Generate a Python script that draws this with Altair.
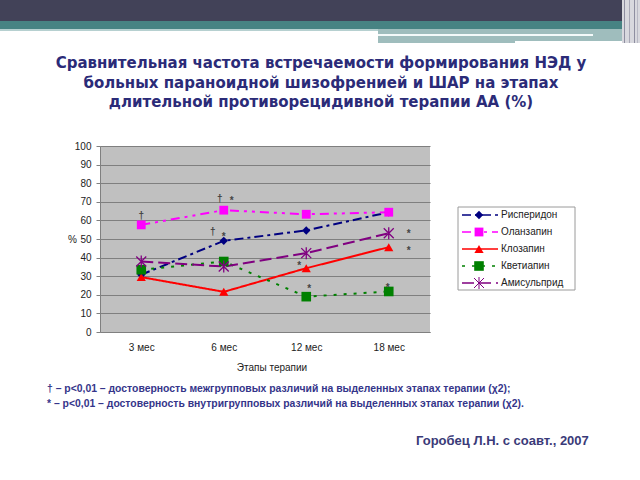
import altair as alt
import pandas as pd

# ---------------- data ----------------
STAGES = ["3 мес", "6 мес", "12 мес", "18 мес"]
SERIES = ["Рисперидон", "Оланзапин", "Клозапин", "Кветиапин", "Амисульприд"]
RISPERIDONE = [30.8, 49.0, 54.6, 64.4]
OLANZAPINE = [57.6, 65.5, 63.3, 64.4]
CLOZAPINE = [29.5, 21.6, 34.3, 45.6]
QUETIAPINE = [33.5, 37.9, 19.0, 21.8]
AMISULPRIDE = [37.9, 35.2, 42.4, 53.1]
Y_TICKS = list(range(0, 101, 10))

ANNOT_STAGE = ["3 мес", "6 мес", "6 мес", "6 мес", "6 мес", "12 мес", "12 мес", "18 мес", "18 мес", "18 мес"]
ANNOT_VALUE = [62.4, 71.5, 72.0, 53.8, 52.7, 37.0, 24.7, 54.3, 45.0, 25.3]
ANNOT_SYMBOL = ["†", "†", "*", "†", "*", "*", "*", "*", "*", "*"]
# horizontal nudges (style, px)
ANNOT_DX = [0, -4, 8, -11, 0, -7, 3, 20, 20, -1]

TITLE_LINES = [
    "Сравнительная частота встречаемости формирования НЭД у",
    "больных параноидной шизофренией и ШАР на этапах",
    "длительной противорецидивной терапии АА (%)",
]
FOOT_LINES = [
    "† –  p<0,01 – достоверность межгрупповых различий на выделенных этапах терапии (χ2);",
    "* –   p<0,01 –  достоверность  внутригрупповых  различий  на  выделенных  этапах  терапии (χ2).",
]
AUTHOR = "Горобец Л.Н. с соавт., 2007"

COLORS = ["#000080", "#ff00ff", "#ff0000", "#008000", "#800080"]
DASHES = [[9, 4, 3, 4], [9, 5, 3, 5, 3, 5], [1, 0], [3, 7], [12, 5]]
SHAPES = ["diamond", "square", "triangle-up", "square", "M-1,-1L1,1M-1,1L1,-1M0,-1.2L0,1.2"]
SIZES = [70, 100, 35, 80, 150]

rows = []
for name, vals in zip(SERIES, [RISPERIDONE, OLANZAPINE, CLOZAPINE, QUETIAPINE, AMISULPRIDE]):
    for st, v in zip(STAGES, vals):
        rows.append({"series": name, "stage": st, "value": v})
df = pd.DataFrame(rows)
ann = pd.DataFrame({"stage": ANNOT_STAGE, "value": ANNOT_VALUE, "sym": ANNOT_SYMBOL, "dx": ANNOT_DX})
leg = pd.DataFrame({"series": SERIES})

FONT = "Liberation Sans"
W, H = 330, 186
L, T = 100, 146  # plot origin in page

xscale = alt.Scale(type="point", domain=STAGES, padding=0.5)
yscale = alt.Scale(domain=[0, 100], nice=False)
color = alt.Color("series:N", scale=alt.Scale(domain=SERIES, range=COLORS), legend=None)
dash = alt.StrokeDash("series:N", scale=alt.Scale(domain=SERIES, range=DASHES), legend=None)
shape = alt.Shape("series:N", scale=alt.Scale(domain=SERIES, range=SHAPES), legend=None)
size = alt.Size("series:N", scale=alt.Scale(domain=SERIES, range=SIZES), legend=None)

AX_X = alt.Axis(title=None, labelAngle=0, ticks=False, domainColor="#808080",
                labelPadding=10, labelFont=FONT, labelFontSize=10, labelColor="#222")
AX_Y = alt.Axis(title=None, values=Y_TICKS, grid=True, gridColor="#7f7f7f",
                labelOverlap=False, domainColor="#808080", tickColor="#808080", tickSize=4,
                labelPadding=5, labelFont=FONT, labelFontSize=10, labelColor="#222")
XE = alt.X("stage:N", scale=xscale, sort=STAGES, axis=AX_X)
YE = alt.Y("value:Q", scale=yscale, axis=AX_Y)

base = alt.Chart(df)
lines = base.mark_line(strokeWidth=2).encode(
    x=XE, y=YE, color=color, strokeDash=dash, detail="series:N",
)
filled_pts = base.transform_filter(alt.datum.series != "Амисульприд").mark_point(filled=True, opacity=1).encode(
    x=XE, y=YE, color=color, shape=shape, size=size,
)
star_pts = base.transform_filter(alt.datum.series == "Амисульприд").mark_point(filled=False, strokeWidth=1.3, opacity=1).encode(
    x=XE, y=YE, color=color, shape=shape, size=size,
)

annot_layers = []
for d in sorted(set(ANNOT_DX)):
    for sym in ["†", "*"]:
        sub = ann[(ann.dx == d) & (ann.sym == sym)]
        if len(sub) == 0:
            continue
        annot_layers.append(
            alt.Chart(sub).mark_text(dx=d, dy=(3 if sym == "*" else 0), fontSize=10, font=FONT,
                                     fontWeight="bold", color="#444444").encode(
                x=XE, y=YE, text="sym:N",
            )
        )

main = alt.layer(lines, filled_pts, star_pts, *annot_layers)

# ---------------- legend ----------------
legy = alt.Y("series:N", scale=alt.Scale(type="point", domain=SERIES, range=[69, 137], padding=0), axis=None)
one = alt.Data(values=[{}])
leg_box = alt.Chart(one).mark_rect(fill="white", stroke="#9a9a9a", strokeWidth=1).encode(
    x=alt.value(358), x2=alt.value(475), y=alt.value(61), y2=alt.value(144))
leg_lines = alt.Chart(leg).mark_rule(strokeWidth=1.5).encode(
    x=alt.value(362), x2=alt.value(398), y=legy, color=color, strokeDash=dash)
leg_pts = alt.Chart(leg).transform_filter(alt.datum.series != "Амисульприд").mark_point(filled=True, opacity=1).encode(
    x=alt.value(379), y=legy, color=color, shape=shape,
    size=alt.Size("series:N", scale=alt.Scale(domain=SERIES, range=SIZES), legend=None))
leg_star = alt.Chart(leg).transform_filter(alt.datum.series == "Амисульприд").mark_point(filled=False, opacity=1, strokeWidth=1).encode(
    x=alt.value(379), y=legy, color=color, shape=shape,
    size=alt.Size("series:N", scale=alt.Scale(domain=SERIES, range=SIZES), legend=None))
leg_text = alt.Chart(leg).mark_text(align="left", baseline="middle", fontSize=10, font=FONT, color="#222").encode(
    x=alt.value(401), y=legy, text="series:N")
legend = alt.layer(leg_box, leg_lines, leg_pts, leg_star, leg_text)

# ---------------- slide decorations & texts ----------------
def rect(x0, y0, x1, y1, fill):
    return alt.Chart(one).mark_rect(fill=fill).encode(
        x=alt.value(x0 - L), x2=alt.value(x1 - L), y=alt.value(y0 - T), y2=alt.value(y1 - T))

deco = [
    rect(0, 0, 622, 21, "#424258"),
    rect(0, 21, 622, 29, "#478383"),
    rect(0, 29, 378, 31, "#b6d0d0"),
    rect(378, 29, 622, 43, "#9fbdbd"),
    rect(378, 34, 593, 36, "#f4fafa"),
    rect(515, 41, 622, 43, "#ffffff"),
    rect(622, 0, 640, 43, "#d8d8de"),
    rect(624, 0, 625, 43, "#8e8ea0"),
    rect(629, 0, 630, 43, "#a8a8b6"),
    rect(634, 0, 635, 43, "#8e8ea0"),
    rect(637, 0, 638, 43, "#b8b8c4"),
]

def text(s, x, y, size, weight="normal", color="#222", align="left", font=FONT):
    return alt.Chart(one).mark_text(text=s, align=align, baseline="middle", fontSize=size,
                                    fontWeight=weight, color=color, font=font).encode(
        x=alt.value(x - L), y=alt.value(y - T))

texts = [
    text(TITLE_LINES[0], 321, 63, 15, "bold", "#2b2b78", "center", "DejaVu Sans"),
    text(TITLE_LINES[1], 321, 83, 15, "bold", "#2b2b78", "center", "DejaVu Sans"),
    text(TITLE_LINES[2], 321, 102, 15, "bold", "#2b2b78", "center", "DejaVu Sans"),
    text(FOOT_LINES[0], 47, 389, 10.4, "bold", "#35358a"),
    text(FOOT_LINES[1], 47, 404, 10.4, "bold", "#35358a"),
    text(AUTHOR, 416, 441, 13, "bold", "#3a3a78"),
    text("%", 68, 240, 10),
    text("Этапы терапии", 272, 368, 10, align="center"),
]

chart = alt.layer(alt.layer(*deco, *texts), main, legend).resolve_scale(y="independent").properties(
    width=W, height=H,
    autosize=alt.AutoSizeParams(type="none"),
    padding={"left": L, "top": T, "right": 640 - L - W, "bottom": 480 - T - H},
    background="white",
).configure_view(fill="#c0c0c0", stroke=None)

chart.save("out.html", embed_options={"renderer": "svg", "actions": False})
